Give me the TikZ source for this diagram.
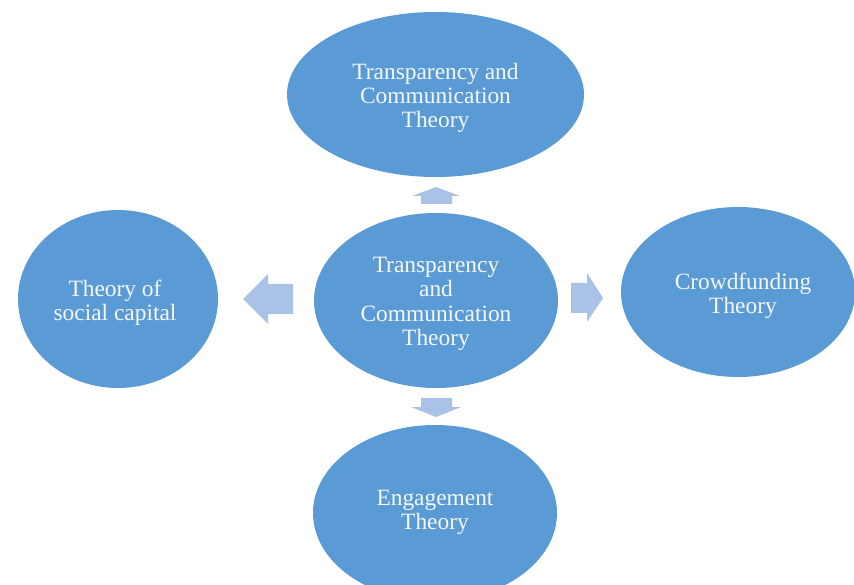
\documentclass[tikz,border=0pt]{standalone}
\usepackage{fontspec}
\setmainfont{Liberation Serif}
\usetikzlibrary{shapes.geometric}
\definecolor{ellblue}{HTML}{5B9BD5}
\definecolor{arrblue}{HTML}{A9C2E6}
\definecolor{txtwhite}{HTML}{F4F7FB}
\tikzset{
  theory/.style={ellipse, fill=ellblue, draw=none, inner sep=0pt},
  theorytext/.style={align=center, inner sep=0pt, text=txtwhite,
    font=\fontsize{23.4}{24.4}\selectfont, yshift=-3.5pt},
  blockarrow/.style={fill=arrblue, draw=none}
}
\begin{document}
\begin{tikzpicture}[x=1pt,y=-1pt]
\useasboundingbox (0,0) rectangle (854,585);
\node[theory, minimum width=297pt, minimum height=165pt] (top) at (435.5,94.5) {};
\node[theorytext] (topt) at (top.center) {Transparency and\\Communication\\Theory};
\node[theory, minimum width=244pt, minimum height=175pt] (mid) at (436,300.5) {};
\node[theorytext] (midt) at (mid.center) {Transparency\\and\\Communication\\Theory};
\node[theory, minimum width=200pt, minimum height=178pt] (left) at (118,299) {};
\node[theorytext] (leftt) at ([xshift=-3pt]left.center) {Theory of\\social capital};
\node[theory, minimum width=234pt, minimum height=170pt] (right) at (738,292) {};
\node[theorytext] (rightt) at ([xshift=5pt]right.center) {Crowdfunding\\Theory};
\node[theory, minimum width=244pt, minimum height=176pt] (bottom) at (435,513) {};
\node[theorytext] (bottomt) at ([yshift=4pt]bottom.center) {Engagement\\Theory};
% block arrows
\fill[blockarrow] (421,204) -- (421,196) -- (412,196) -- (436,187) -- (460,196)
  -- (452,196) -- (452,204) -- cycle;
\fill[blockarrow] (293,284) -- (268,284) -- (268,274) -- (243,299) -- (268,324)
  -- (268,314) -- (293,314) -- cycle;
\fill[blockarrow] (571,283) -- (587,283) -- (587,273) -- (603,298) -- (587,322)
  -- (587,313) -- (571,313) -- cycle;
\fill[blockarrow] (421,398) -- (452,398) -- (452,407) -- (461,407) -- (436,417)
  -- (411,407) -- (421,407) -- cycle;
\end{tikzpicture}
\end{document}
